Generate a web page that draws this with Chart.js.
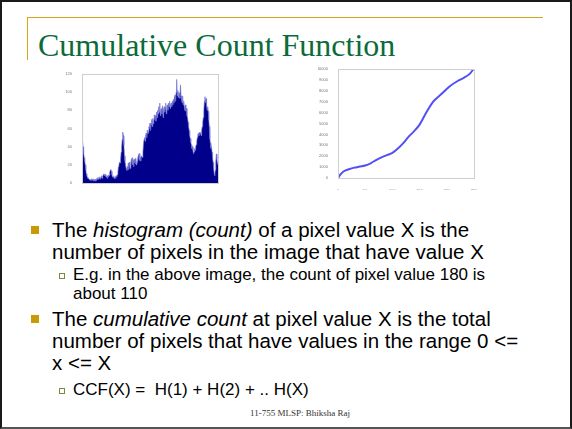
<!DOCTYPE html>
<html>
<head>
<meta charset="utf-8">
<script src="https://cdn.jsdelivr.net/npm/chart.js"></script>
<style>
  html, body { margin: 0; padding: 0; background: #fff; }
  #slide { position: relative; width: 572px; height: 429px; overflow: hidden; background: #fff; }
  #frame { position: absolute; left: 0; top: 0; width: 572px; height: 429px; box-sizing: border-box;
           border: 2px solid #1a1a1a; border-bottom-color: #555; }
  .gold-h { position: absolute; left: 27px; top: 17px; width: 516px; height: 1px; background: #d4a514; }
  .gold-v { position: absolute; left: 27px; top: 17px; width: 1px; height: 43px; background: #d4a514; }
  #title { position: absolute; left: 38px; top: 27px; font-family: "Liberation Serif", serif; font-size: 32px;
           color: #0b6b3a; white-space: nowrap; line-height: 36px; }
  .txt { position: absolute; font-family: "Liberation Sans", Arial, sans-serif; color: #000; white-space: nowrap; }
  .main { font-size: 20.5px; line-height: 22px; left: 52px; }
  .sub { font-size: 17px; line-height: 19px; left: 73px; }
  .b1 { position: absolute; left: 31px; width: 8px; height: 8px; background: #c99a06; }
  .b2 { position: absolute; left: 59px; width: 4px; height: 4px; border: 1px solid #7a8a3a; }
  #foot { position: absolute; left: 0; width: 600px; top: 408px; text-align: center;
          font-family: "Liberation Serif", serif; font-size: 9px; color: #333; }
  canvas { position: absolute; }
</style>
</head>
<body>
<div id="slide">
  <div id="frame"></div>
  <div class="gold-h"></div>
  <div class="gold-v"></div>
  <div id="title">Cumulative Count Function</div>

  <canvas id="hist" width="165" height="128" style="left:60px;top:66px"></canvas>
  <canvas id="ccf" width="162" height="130" style="left:318px;top:60px"></canvas>

  <div class="b1" style="top:226px"></div>
  <div class="txt main" style="top:219px">The <i>histogram (count)</i> of a pixel value X is the<br>number of pixels in the image that have value X</div>
  <div class="b2" style="top:273px"></div>
  <div class="txt sub" style="top:265px">E.g. in the above image, the count of pixel value 180 is<br>about 110</div>
  <div class="b1" style="top:315px"></div>
  <div class="txt main" style="top:308px">The <i>cumulative count</i> at pixel value X is the total<br>number of pixels that have values in the range 0 &lt;=<br>x &lt;= X</div>
  <div class="b2" style="top:388px"></div>
  <div class="txt sub" style="top:380px">CCF(X) =&nbsp; H(1) + H(2) + .. H(X)</div>
  <div id="foot">11-755 MLSP: Bhiksha Raj</div>
</div>

<script>
// ======== Dados ========

// Histograma: contagem para cada valor de pixel 0..250
const histCounts = [
  77, 47, 40, 33, 28, 24, 20, 15, 10, 8,
  6, 5, 5, 4, 4, 3, 4, 3, 5, 3,
  3, 4, 2, 3, 4, 2, 3, 5, 4, 6,
  4, 6, 5, 7, 4, 6, 8, 5, 7, 9,
  10, 8, 10, 9, 7, 6, 8, 5, 7, 9,
  8, 12, 14, 15, 13, 9, 7, 6, 8, 5,
  6, 7, 5, 8, 7, 9, 12, 18, 20, 23,
  22, 26, 34, 40, 48, 56, 52, 42, 30, 24,
  20, 16, 14, 18, 14, 22, 15, 23, 18, 16,
  24, 27, 20, 28, 25, 18, 26, 22, 27, 21,
  20, 24, 22, 30, 32, 25, 33, 28, 24, 30,
  30, 28, 34, 42, 48, 50, 46, 52, 55, 50,
  58, 54, 56, 62, 60, 66, 58, 64, 70, 62,
  71, 65, 68, 75, 70, 74, 68, 78, 72, 80,
  76, 84, 78, 88, 74, 80, 82, 76, 85, 72,
  80, 84, 78, 82, 88, 76, 84, 86, 80, 88,
  84, 90, 82, 86, 88, 84, 90, 86, 92, 88,
  94, 97, 90, 100, 114, 96, 102, 94, 100, 98,
  93, 108, 96, 92, 88, 96, 86, 90, 84, 80,
  86, 79, 82, 74, 72, 67, 62, 58, 52, 49,
  45, 42, 38, 40, 36, 32, 34, 38, 36, 40,
  42, 46, 50, 53, 55, 52, 56, 54, 56, 52,
  58, 62, 67, 72, 80, 90, 95, 88, 93, 85,
  80, 84, 79, 70, 62, 49, 44, 38, 40, 34,
  28, 23, 16, 10, 8, 14, 24, 32, 26, 22,
  20
];

// Contagem cumulativa: pontos
const ccfX = [0, 5, 10, 20, 30, 40, 50, 60, 70, 80, 90, 100, 110, 120, 130, 140, 150, 160, 175, 190, 205, 220, 230, 243, 249];
const ccfY = [0, 350, 600, 800, 950, 1050, 1150, 1350, 1650, 1900, 2100, 2300, 2700, 3200, 3800, 4300, 4900, 5800, 7000, 7700, 8400, 8900, 9150, 9600, 10000];

// Marcas dos eixos
const histXTicks = [0, 50, 100, 150, 200, 250];
const histYTicks = [0, 20, 40, 60, 80, 100, 120];
const ccfYTicks = [0, 1000, 2000, 3000, 4000, 5000, 6000, 7000, 8000, 9000, 10000];

// ======== Moldura estilo MATLAB em volta da área do gráfico ========
const caixa = {
  id: 'caixa',
  afterDraw(chart) {
    const { ctx, chartArea: a } = chart;
    ctx.save();
    ctx.strokeStyle = '#cfcfcf';
    ctx.lineWidth = 1;
    ctx.strokeRect(Math.round(a.left) + 0.5, Math.round(a.top) + 0.5,
                   Math.round(a.right - a.left), Math.round(a.bottom - a.top));
    ctx.restore();
  }
};

function eixo(min, max, ticks, tamanho, ehX) {
  return {
    type: 'linear',
    min: min,
    max: max,
    afterBuildTicks: (s) => { s.ticks = ticks.map((v) => ({ value: v })); },
    ticks: { font: { size: 4 }, color: '#777', padding: 2, maxRotation: 0, autoSkip: false,
             callback: (v) => String(v) },
    grid: { display: false },
    border: { color: '#cfcfcf' },
    afterFit: (s) => { if (ehX) s.height = tamanho; else s.width = tamanho; }
  };
}

const base = {
  responsive: false,
  animation: false,
  events: [],
  plugins: { legend: { display: false }, tooltip: { enabled: false } }
};

// ======== Histograma ========
new Chart(document.getElementById('hist').getContext('2d'), {
  type: 'line',
  data: {
    datasets: [{
      data: histCounts.map((c, i) => ({ x: i, y: c })),
      borderColor: 'rgba(110,110,210,0.9)',
      borderWidth: 0.7,
      backgroundColor: '#00008a',
      fill: 'origin',
      pointRadius: 0,
      tension: 0
    }]
  },
  options: {
    ...base,
    layout: { padding: { top: 8, right: 7, left: 0, bottom: 0 } },
    scales: {
      x: eixo(0, 250, histXTicks, 11, true),
      y: eixo(0, 120, histYTicks, 22, false)
    }
  },
  plugins: [caixa]
});

// ======== Função de contagem cumulativa ========
new Chart(document.getElementById('ccf').getContext('2d'), {
  type: 'line',
  data: {
    datasets: [{
      data: ccfX.map((x, i) => ({ x: x, y: ccfY[i] })),
      borderColor: '#5050f5',
      borderWidth: 2,
      pointRadius: 0,
      fill: false,
      tension: 0.4,
      cubicInterpolationMode: 'monotone'
    }]
  },
  options: {
    ...base,
    layout: { padding: { top: 9, right: 6, left: 0, bottom: 0 } },
    scales: {
      x: eixo(0, 250, histXTicks, 12, true),
      y: eixo(0, 10000, ccfYTicks, 20, false)
    }
  },
  plugins: [caixa]
});
</script>
</body>
</html>
